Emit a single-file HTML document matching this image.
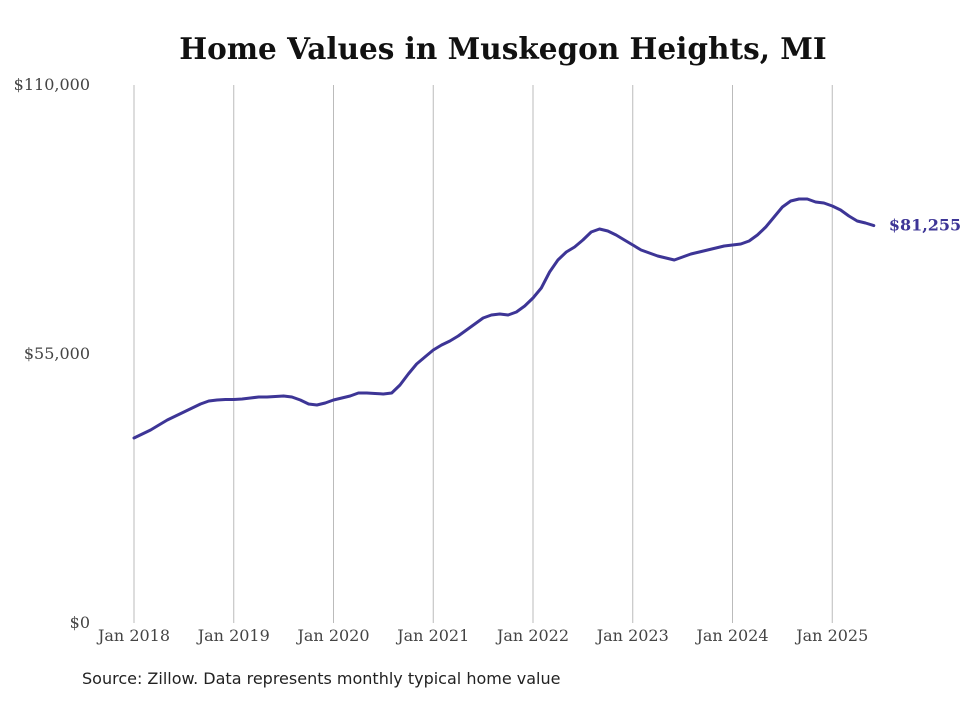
<!DOCTYPE html>
<html><head><meta charset="utf-8"><style>
body{margin:0;background:#fff;}
svg text{font-family:"DejaVu Serif","Liberation Serif",serif;}
</style></head><body>
<svg width="980" height="699" xmlns="http://www.w3.org/2000/svg">
<rect width="980" height="699" fill="#fff"/>
<text x="503" y="59" text-anchor="middle" font-size="29.5" font-weight="bold" fill="#111">Home Values in Muskegon Heights, MI</text>
<g id="grid"></g><g id="yticks"></g><g id="xticks"></g><g id="series"></g>
<text x="82" y="684" font-size="16" fill="#222" style="font-family:'DejaVu Sans',sans-serif">Source: Zillow. Data represents monthly typical home value</text>
</svg>
<script>
const yearLabels=["Jan 2018","Jan 2019","Jan 2020","Jan 2021","Jan 2022","Jan 2023","Jan 2024","Jan 2025"];
const yTickValues=[0,55000,110000];
const yTickLabels=["$0","$55,000","$110,000"];
const values=[37825,38640,39460,40480,41500,42320,43140,43960,44780,45390,45590,45700,
45700,45800,46000,46210,46210,46310,46410,46210,45590,44780,44570,44980,
45590,46000,46410,47030,47030,46920,46820,47030,48660,50910,52950,54390,
55820,56840,57660,58680,59910,61130,62360,62970,63180,62970,63590,64810,
66450,68490,71770,74220,75860,76880,78310,79940,80560,80150,79330,78310,
77290,76260,75650,75040,74630,74220,74830,75450,75860,76260,76670,77080,
77290,77490,78100,79330,80970,83010,85060,86280,86690,86690,86080,85870,
85260,84440,83210,82190,81780,81255];
const lastLabel="$81,255";
const NS="http://www.w3.org/2000/svg";
const x=i=>134+i*99.75/12;
const y=v=>623-v/110000*538;
function mk(t,a,p){const e=document.createElementNS(NS,t);for(const k in a)e.setAttribute(k,a[k]);p.appendChild(e);return e;}
const grid=document.getElementById('grid'),xt=document.getElementById('xticks'),yt=document.getElementById('yticks'),ser=document.getElementById('series');
yearLabels.forEach((l,k)=>{
 const gl=mk('line',{x1:x(k*12),x2:x(k*12),y1:85,y2:623,stroke:'#bbb','stroke-width':1},grid);
 
 
 const t=mk('text',{x:x(k*12),y:641,'text-anchor':'middle','font-size':16,fill:'#444'},xt);
 t.textContent=l;
 
 
});
yTickValues.forEach((v,k)=>{
 const t=mk('text',{x:90,y:y(v)+5,'text-anchor':'end','font-size':16,fill:'#444'},yt);
 t.textContent=yTickLabels[k];
 
 
});
const d=values.map((v,i)=>(i?'L':'M')+x(i).toFixed(1)+' '+y(v).toFixed(1)).join(' ');
const p=mk('path',{d:d,fill:'none',stroke:'#3d3596','stroke-width':3,'stroke-linejoin':'round','stroke-linecap':'round'},ser);


const li=values.length-1;
const lt=mk('text',{x:x(li)+15,y:y(values[li])+5,'font-size':16,'font-weight':'bold',fill:'#3d3596'},ser);
lt.textContent=lastLabel;


</script>
</body></html>
